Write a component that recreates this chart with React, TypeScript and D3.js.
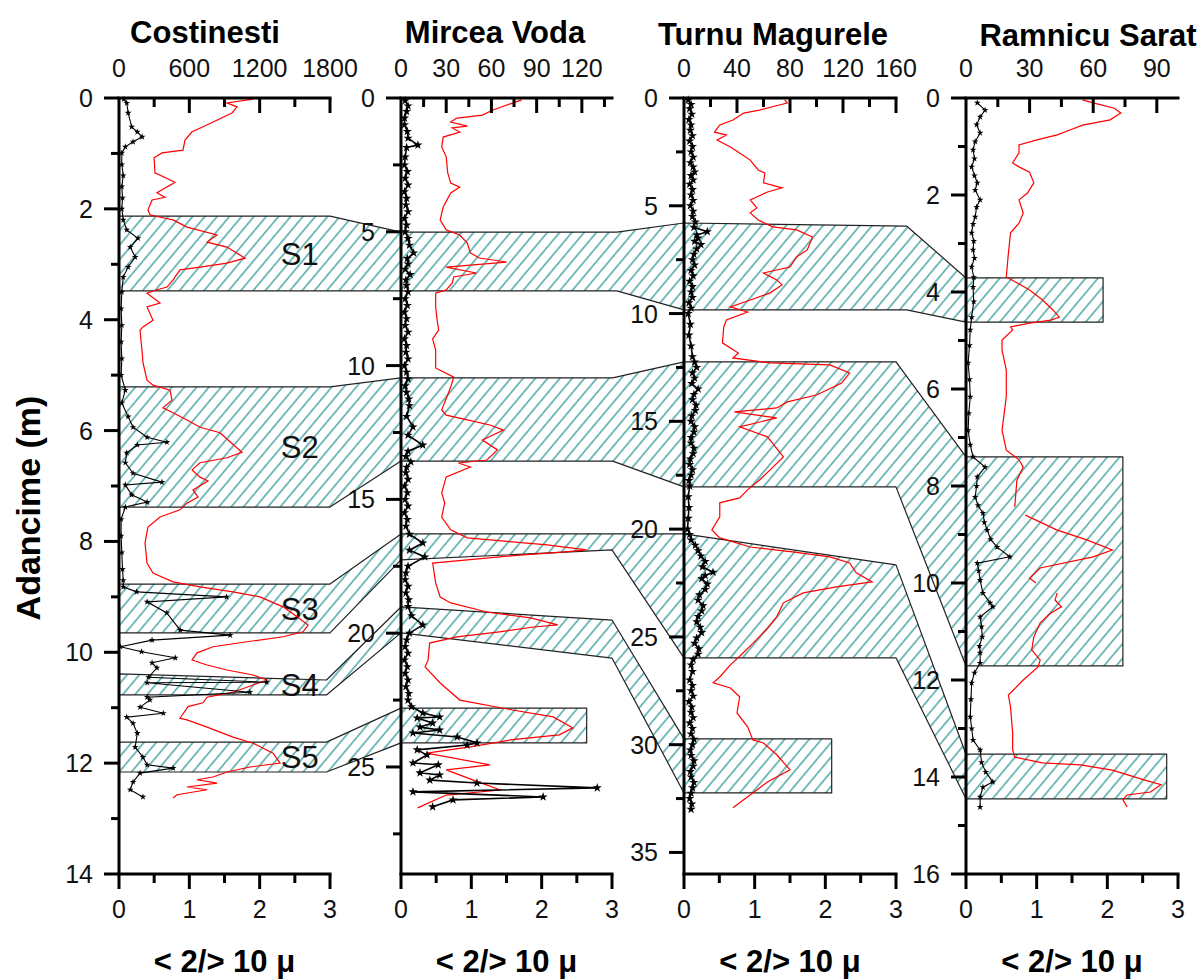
import React from 'react';
import * as d3 from 'd3';

// ---------------- DATA ----------------
const panelNames = ['Costinesti', 'Mircea Voda', 'Turnu Magurele', 'Ramnicu Sarat'];
const depthMax = [14, 29, 36, 16];
const depthMajor = [2, 5, 5, 2];
const depthMinor = [1, 2.5, 2.5, 1];
const topMax = [1800, 140, 160, 100];
const topLabels = [[0, 600, 1200, 1800], [0, 30, 60, 90, 120], [0, 40, 80, 120, 160], [0, 30, 60, 90]];
const topMinorStep = [300, 15, 20, 15];
const ratioLabels = [0, 1, 2, 3];
const yTitle = 'Adancime (m)';
const xTitle = '< 2/> 10 μ';
const bandNames = ['S1', 'S2', 'S3', 'S4', 'S5'];

// [depth m, top-axis value]
const costRed: [number, number][] = [
  [0.02,1143],[0.09,921],[0.16,1007],[0.27,964],[0.52,717],[0.61,623],[0.76,563],[0.94,546],[0.99,367],[1.08,299],[1.35,307],[1.52,478],[1.71,324],[1.79,392],[1.84,282],[2.02,247],[2.11,265],[2.16,375],[2.20,461],[2.33,580],[2.47,836],[2.60,751],[2.69,921],[2.89,1075],[2.98,921],[3.05,691],[3.10,520],[3.28,461],[3.41,410],[3.46,324],[3.52,239],[3.70,350],[3.77,239],[4.01,290],[4.13,205],[4.19,179],[4.55,196],[4.78,205],[5.09,239],[5.18,290],[5.27,435],[5.45,452],[5.59,375],[5.68,461],[5.81,580],[5.94,691],[6.04,862],[6.17,930],[6.39,1049],[6.49,921],[6.58,691],[6.71,623],[6.84,691],[6.91,759],[7.07,631],[7.20,674],[7.31,580],[7.43,520],[7.56,350],[7.74,247],[8.03,222],[8.39,239],[8.57,290],[8.73,461],[8.82,691],[8.91,973],[9.00,1203],[9.18,1399],[9.36,1519],[9.51,1613],[9.63,1570],[9.72,1399],[9.81,1092],[9.90,802],[10.01,666],[10.14,623],[10.23,751],[10.32,921],[10.41,1143],[10.50,1263],[10.59,1143],[10.72,973],[10.81,751],[10.91,717],[10.98,589],[11.19,520],[11.22,580],[11.35,751],[11.53,973],[11.64,1143],[11.82,1314],[12.00,1374],[12.07,1118],[12.16,921],[12.25,802],[12.30,666],[12.36,836],[12.43,580],[12.48,751],[12.57,495],[12.63,461]
];
// [depth m, ratio <2/>10µ]
const costBlack: [number, number][] = [
  [0.02,0.07],[0.09,0.11],[0.27,0.13],[0.52,0.18],[0.61,0.26],[0.70,0.33],[0.79,0.2],[0.88,0.09],[0.99,0.04],[1.2,0.04],[1.4,0.06],[1.6,0.04],[1.8,0.05],[2.0,0.04],[2.2,0.06],[2.38,0.11],[2.53,0.27],[2.69,0.16],[2.87,0.23],[3.05,0.13],[3.23,0.06],[3.5,0.04],[3.8,0.03],[4.1,0.04],[4.4,0.03],[4.7,0.04],[5.0,0.03],[5.27,0.09],[5.50,0.04],[5.75,0.13],[5.94,0.2],[6.12,0.4],[6.21,0.68],[6.26,0.26],[6.40,0.11],[6.58,0.09],[6.77,0.2],[6.93,0.61],[6.98,0.09],[7.16,0.18],[7.29,0.4],[7.38,0.09],[7.6,0.03],[7.9,0.03],[8.2,0.04],[8.5,0.05],[8.7,0.06],[8.82,0.06],[8.91,0.25],[9.00,1.53],[9.09,0.4],[9.29,0.68],[9.60,0.87],[9.69,1.58],[9.78,0.47],[9.90,0.02],[9.99,0.32],[10.10,0.8],[10.19,0.47],[10.28,0.54],[10.45,0.42],[10.54,2.1],[10.55,0.4],[10.72,1.86],[10.81,0.4],[10.86,0.44],[10.99,0.3],[11.10,0.63],[11.17,0.11],[11.28,0.2],[11.46,0.26],[11.71,0.23],[11.89,0.34],[12.03,0.4],[12.09,0.77],[12.18,0.3],[12.34,0.2],[12.48,0.16],[12.61,0.34]
];
const mirRed: [number, number][] = [
  [0.07,80],[0.19,74],[0.45,61],[0.64,54],[0.75,37],[0.90,33],[1.05,44],[1.12,34],[1.27,39],[1.46,28],[1.83,27],[2.20,30],[2.80,31],[3.18,33],[3.33,39],[3.55,33],[4.07,28],[4.56,26],[4.93,30],[5.12,39],[5.42,44],[5.79,46],[5.98,52],[6.13,70],[6.32,30],[6.54,50],[6.69,35],[6.91,34],[7.17,30],[7.29,23],[7.81,23],[8.30,24],[8.67,25],[9.0,21],[9.42,23],[10.09,23],[10.43,35],[10.80,33],[11.66,27],[11.85,30],[12.03,44],[12.22,59],[12.41,68],[12.78,54],[13.15,64],[13.53,57],[13.64,38],[13.79,46],[14.16,30],[14.76,27],[15.13,29],[15.66,27],[16.14,33],[16.44,44],[16.59,74],[16.70,97],[16.89,123],[16.97,107],[17.08,79],[17.26,44],[17.38,21],[18.12,23],[18.65,26],[18.87,33],[19.21,57],[19.43,86],[19.69,104],[19.77,88],[19.96,64],[20.14,37],[20.37,19],[21.00,18],[21.26,16],[21.86,26],[22.50,39],[22.87,74],[23.13,101],[23.54,114],[23.80,105],[23.98,74],[24.25,46],[24.48,17],[24.92,59],[25.11,30],[25.49,48],[25.86,66],[26.05,30],[26.53,11]
];
const mirBlack: [number, number][] = [
  [0.1,0.06],[0.3,0.1],[0.5,0.08],[0.75,0.05],[1.0,0.05],[1.25,0.09],[1.5,0.1],[1.76,0.24],[1.85,0.08],[2.2,0.06],[2.5,0.05],[2.75,0.09],[3.0,0.06],[3.25,0.1],[3.5,0.05],[3.75,0.08],[4.0,0.07],[4.25,0.1],[4.5,0.05],[4.75,0.08],[5.0,0.06],[5.25,0.1],[5.5,0.12],[5.79,0.18],[6.0,0.09],[6.2,0.1],[6.4,0.06],[6.6,0.13],[6.8,0.07],[7.0,0.08],[7.25,0.1],[7.5,0.06],[7.75,0.09],[8.0,0.05],[8.25,0.08],[8.5,0.06],[8.75,0.1],[9.0,0.05],[9.25,0.08],[9.5,0.07],[9.75,0.1],[10.0,0.05],[10.25,0.08],[10.5,0.1],[10.75,0.06],[11.0,0.08],[11.25,0.11],[11.5,0.12],[11.9,0.08],[12.29,0.17],[12.6,0.1],[12.97,0.31],[13.2,0.1],[13.4,0.07],[13.6,0.14],[13.8,0.08],[14.0,0.07],[14.25,0.1],[14.5,0.05],[14.75,0.09],[15.0,0.06],[15.25,0.1],[15.5,0.05],[15.75,0.09],[16.0,0.07],[16.3,0.12],[16.63,0.31],[16.9,0.12],[17.15,0.34],[17.5,0.1],[17.75,0.07],[18.0,0.06],[18.25,0.1],[18.5,0.07],[18.75,0.11],[19.0,0.1],[19.35,0.15],[19.69,0.31],[20.0,0.12],[20.25,0.08],[20.5,0.06],[20.75,0.1],[21.0,0.05],[21.25,0.09],[21.5,0.06],[21.75,0.1],[22.0,0.07],[22.25,0.11],[22.5,0.1],[22.75,0.15],[22.98,0.31],[23.13,0.55],[23.17,0.23],[23.36,0.45],[23.51,0.27],[23.62,0.55],[23.73,0.17],[23.88,0.8],[24.10,1.08],[24.18,0.94],[24.36,0.23],[24.55,0.37],[24.85,0.17],[24.92,0.53],[25.22,0.27],[25.30,0.55],[25.49,0.41],[25.60,1.08],[25.78,2.79],[25.93,0.17],[26.12,2.02],[26.23,0.74],[26.49,0.45]
];
const turRed: [number, number][] = [
  [0.09,76],[0.23,78],[0.56,57],[0.70,45],[1.02,37],[1.25,27],[1.58,23],[1.72,32],[1.95,25],[2.27,35],[2.55,42],[2.88,50],[3.34,56],[3.48,61],[3.94,60],[4.17,74],[4.36,63],[4.73,50],[5.10,55],[5.33,50],[5.66,56],[5.98,67],[6.12,85],[6.45,97],[7.05,93],[7.37,85],[7.84,80],[8.12,60],[8.44,70],[8.67,74],[9.04,65],[9.37,50],[9.69,35],[9.93,48],[10.30,32],[10.62,30],[11.36,29],[11.83,41],[12.06,37],[12.29,65],[12.38,110],[12.76,125],[13.22,119],[13.78,100],[14.10,78],[14.38,70],[14.56,38],[14.84,70],[15.26,42],[15.72,63],[16.65,75],[17.25,65],[17.72,57],[18.18,48],[18.55,42],[18.78,27],[19.43,27],[20.04,21],[20.41,27],[20.83,50],[21.06,82],[21.29,110],[21.57,125],[22.03,130],[22.45,142],[22.68,115],[22.96,90],[23.42,75],[24.07,70],[24.6,63],[25.3,52],[25.9,42],[26.30,35],[26.86,27],[27.13,22],[27.37,35],[27.78,42],[28.53,40],[29.17,48],[29.78,52],[29.92,60],[30.47,70],[31.17,80],[31.73,63],[32.10,55],[32.56,45],[32.93,37]
];
const turBlack: [number, number][] = [
  [0.1,0.06],[0.3,0.1],[0.5,0.08],[0.75,0.11],[1.0,0.07],[1.25,0.1],[1.5,0.09],[1.75,0.12],[2.0,0.08],[2.25,0.12],[2.5,0.1],[2.75,0.13],[3.0,0.09],[3.2,0.13],[3.43,0.15],[3.6,0.1],[3.8,0.13],[4.0,0.08],[4.25,0.12],[4.5,0.1],[4.75,0.13],[5.0,0.09],[5.25,0.13],[5.5,0.12],[5.75,0.16],[6.0,0.14],[6.2,0.33],[6.35,0.18],[6.5,0.2],[6.65,0.15],[6.8,0.24],[7.0,0.18],[7.25,0.14],[7.5,0.12],[7.75,0.15],[8.0,0.1],[8.25,0.13],[8.5,0.08],[8.75,0.12],[9.0,0.1],[9.25,0.12],[9.5,0.07],[9.75,0.1],[10.0,0.06],[10.5,0.09],[11.0,0.07],[11.5,0.1],[12.0,0.12],[12.25,0.15],[12.5,0.18],[12.75,0.12],[13.0,0.15],[13.25,0.11],[13.5,0.2],[13.75,0.14],[14.0,0.12],[14.25,0.17],[14.5,0.16],[14.75,0.11],[15.0,0.1],[15.25,0.15],[15.5,0.14],[15.75,0.1],[16.0,0.1],[16.25,0.14],[16.5,0.13],[16.75,0.09],[17.0,0.08],[17.25,0.12],[17.5,0.1],[17.75,0.07],[18.0,0.08],[18.5,0.06],[19.0,0.07],[19.5,0.06],[20.0,0.05],[20.25,0.08],[20.5,0.1],[20.75,0.16],[21.0,0.2],[21.25,0.24],[21.5,0.3],[21.75,0.26],[22.0,0.41],[22.15,0.3],[22.3,0.25],[22.55,0.33],[22.8,0.3],[23.05,0.22],[23.3,0.2],[23.55,0.27],[23.8,0.25],[24.05,0.2],[24.3,0.18],[24.55,0.23],[24.8,0.25],[25.05,0.18],[25.3,0.15],[25.55,0.21],[25.8,0.2],[26.05,0.13],[26.3,0.1],[26.6,0.12],[27.0,0.08],[27.25,0.12],[27.5,0.1],[27.75,0.13],[28.0,0.07],[28.25,0.11],[28.5,0.1],[28.75,0.13],[29.0,0.08],[29.25,0.12],[29.5,0.1],[29.75,0.14],[30.0,0.12],[30.25,0.09],[30.5,0.1],[30.75,0.14],[31.0,0.13],[31.25,0.09],[31.5,0.1],[31.75,0.14],[32.0,0.12],[32.25,0.1],[32.5,0.08],[32.75,0.11],[33.0,0.1]
];
const ramRed: [number, number][] = [
  [0.04,55],[0.10,60],[0.21,70],[0.31,73],[0.45,68],[0.56,55],[0.66,49],[0.76,43],[0.87,33],[0.97,25],[1.13,25],[1.34,22],[1.42,25],[1.53,30],[1.75,32],[1.96,29],[2.10,25],[2.37,27],[2.58,25],[2.78,21],[3.20,20],[3.69,19],[3.81,24],[3.96,30],[4.16,36],[4.37,41],[4.52,44],[4.58,40],[4.64,30],[4.72,21],[4.78,22],[4.99,17],[5.20,17],[5.61,19],[6.16,19],[6.85,17],[7.26,19],[7.46,25],[7.61,27],[7.88,24],[8.43,23],[8.5,NaN],[8.60,28],[8.91,43],[9.11,57],[9.32,69],[9.46,60],[9.69,35],[9.90,30],[10.0,33],[10.1,NaN],[10.21,43],[10.35,42],[10.49,45],[10.62,40],[10.82,35],[11.11,32],[11.38,31],[11.59,35],[11.73,34],[12.0,27],[12.31,20],[12.56,21],[13.09,22],[13.44,22],[13.59,23],[13.71,36],[13.75,54],[13.86,69],[14.06,84],[14.16,92],[14.31,87],[14.37,76],[14.47,74],[14.62,76]
];
const ramBlack: [number, number][] = [
  [0.10,0.16],[0.25,0.27],[0.39,0.2],[0.55,0.15],[0.72,0.2],[0.9,0.13],[1.07,0.1],[1.25,0.12],[1.42,0.08],[1.6,0.12],[1.75,0.16],[1.9,0.13],[2.10,0.2],[2.25,0.15],[2.45,0.13],[2.6,0.1],[2.78,0.08],[2.95,0.11],[3.13,0.1],[3.3,0.12],[3.48,0.08],[3.7,0.11],[3.90,0.1],[4.2,0.11],[4.52,0.08],[4.78,0.06],[5.1,0.05],[5.46,0.03],[5.8,0.05],[6.16,0.06],[6.5,0.04],[6.85,0.03],[7.15,0.06],[7.40,0.1],[7.61,0.27],[7.81,0.16],[8.0,0.15],[8.23,0.13],[8.4,0.17],[8.56,0.24],[8.75,0.26],[8.91,0.3],[9.1,0.35],[9.26,0.44],[9.46,0.62],[9.59,0.16],[9.75,0.18],[9.94,0.2],[10.21,0.24],[10.41,0.34],[10.49,0.38],[10.70,0.2],[10.9,0.22],[11.11,0.23],[11.3,0.19],[11.44,0.2],[11.65,0.2],[11.85,0.12],[12.06,0.08],[12.4,0.07],[12.76,0.06],[13.0,0.08],[13.24,0.1],[13.44,0.2],[13.7,0.22],[13.9,0.28],[14.10,0.38],[14.21,0.24],[14.41,0.2],[14.62,0.2]
];
const redSeries = [costRed, mirRed, turRed, ramRed];
const blackSeries = [costBlack, mirBlack, turBlack, ramBlack];

// hatched layers: [panel, right end (ratio units), topLeft, topRight, bottomLeft, bottomRight] (depths)
const bandS1 = [[0,3.0,2.13,2.13,3.48,3.48],[1,3.07,5.01,5.01,7.21,7.21],[2,3.15,5.8,5.94,9.83,9.83],[3,1.94,3.71,3.71,4.62,4.62]];
const bandS2 = [[0,3.0,5.21,5.21,7.38,7.38],[1,3.01,10.46,10.46,13.57,13.57],[2,3.0,12.24,12.24,18.04,18.04],[3,2.22,7.40,7.40,11.71,11.71]];
const bandS3 = [[0,3.0,8.77,8.77,9.65,9.65],[1,3.0,16.29,16.29,17.26,16.89],[2,3.0,20.22,21.66,25.97,25.97],[3,2.84,13.53,13.53,14.45,14.45]];
const bandS4 = [[0,2.95,10.39,10.5,10.77,10.77],[1,3.0,19.02,19.51,19.99,20.93],[2,2.09,29.73,29.73,32.24,32.24]];
const bandS5 = [[0,2.95,11.62,11.62,12.16,12.16],[1,2.64,22.80,22.80,24.10,24.10]];
const bands = [bandS1, bandS2, bandS3, bandS4, bandS5];

// ---------------- LAYOUT ----------------
const W = 1203, H = 980;
const TOP = 98, BOTTOM = 874;
const panelLeft = [119, 401, 684, 966];
const panelRight = [330, 612, 896, 1178];
const titleX = [205, 495, 773, 1088];
const titleY = [43, 43, 45, 46];
const FONT = '"Liberation Sans", Arial, Helvetica, sans-serif';
const HATCH = '#168a8a';

export default function App() {
  const panels = [0, 1, 2, 3].map((p) => ({
    y: d3.scaleLinear().domain([0, depthMax[p]]).range([TOP, BOTTOM]),
    xr: d3.scaleLinear().domain([0, 3]).range([panelLeft[p], panelRight[p]]),
    xt: d3.scaleLinear().domain([0, topMax[p]]).range([panelLeft[p], panelRight[p]]),
  }));

  const bandPath = (band: number[][]) => {
    const top: [number, number][] = [];
    const bot: [number, number][] = [];
    band.forEach(([p, xR, tL, tR, bL, bR]) => {
      const { y, xr } = panels[p];
      top.push([xr(0), y(tL)], [xr(xR), y(tR)]);
      bot.push([xr(0), y(bL)], [xr(xR), y(bR)]);
    });
    return (d3.line()([...top, ...bot.reverse()]) as string) + 'Z';
  };

  const starSmall = d3.symbol().type(d3.symbolStar).size(14)() as string;
  const starBig = d3.symbol().type(d3.symbolStar).size(26)() as string;
  const isMajor = (v: number, step: number) => Math.abs(v / step - Math.round(v / step)) < 1e-6;

  return (
    <svg width={W} height={H} style={{ position: 'absolute', left: 0, top: 0, background: '#fff' }} fontFamily={FONT}>
      <defs>
        <pattern id="hatch" patternUnits="userSpaceOnUse" width={9.4} height={9.4} patternTransform="rotate(40)">
          <line x1={4.7} y1={0} x2={4.7} y2={9.4} stroke={HATCH} strokeWidth={1.15} />
        </pattern>
      </defs>
      <rect x={0} y={0} width={W} height={H} fill="#fff" />

      {/* hatched layers */}
      {bands.map((b, i) => (
        <path key={'band' + i} d={bandPath(b)} fill="url(#hatch)" stroke="#222" strokeWidth={1.2} strokeLinejoin="round" />
      ))}
      {bands.map((b, i) => {
        const { y, xr } = panels[0];
        const seg = b[0];
        return (
          <text key={'bl' + i} x={xr(2.57)} y={y((seg[2] + seg[4]) / 2)} dy="0.36em" textAnchor="middle" fontSize={31} fill="#111">
            {bandNames[i]}
          </text>
        );
      })}

      {panels.map((P, p) => {
        const { y, xr, xt } = P;
        const L = panelLeft[p], R = panelRight[p];
        const yTicks = d3.range(0, depthMax[p] + 1e-9, depthMinor[p]);
        const tTicks = d3.range(0, topMax[p] + 1e-9, topMinorStep[p]);
        const bTicks = d3.range(0, 3 + 1e-9, 0.5);
        const redLine = d3.line<[number, number]>().defined((d) => !isNaN(d[1])).x((d) => xt(d[1])).y((d) => y(d[0]));
        const blackLine = d3.line<[number, number]>().x((d) => xr(d[1])).y((d) => y(d[0]));
        const cx = (L + R) / 2;
        const dense = p === 1 || p === 2;
        return (
          <g key={'panel' + p}>
            {/* data */}
            <path d={redLine(redSeries[p]) as string} fill="none" stroke="#ff0000" strokeWidth={1.2} />
            <path d={blackLine(blackSeries[p]) as string} fill="none" stroke="#000" strokeWidth={dense ? 1.6 : 1.1} />
            {blackSeries[p].map((d, i) => (
              <path key={i} d={dense ? starBig : starSmall} transform={`translate(${xr(d[1])},${y(d[0])})`} fill="#000" />
            ))}

            {/* axes */}
            <line x1={L} y1={TOP} x2={L} y2={BOTTOM + 15} stroke="#000" strokeWidth={3} />
            <line x1={L - 1.5} y1={TOP} x2={R + 1.5} y2={TOP} stroke="#000" strokeWidth={3} />
            <line x1={L - 1.5} y1={BOTTOM} x2={R + 1.5} y2={BOTTOM} stroke="#000" strokeWidth={3} />
            {yTicks.map((v) => {
              const maj = isMajor(v, depthMajor[p]);
              return (
                <g key={'yt' + v}>
                  <line x1={L - (maj ? 15 : 8)} y1={y(v)} x2={L} y2={y(v)} stroke="#000" strokeWidth={3} />
                  {maj && (
                    <text x={L - 26} y={y(v)} dy="0.36em" textAnchor="end" fontSize={25} fill="#111">
                      {v}
                    </text>
                  )}
                </g>
              );
            })}
            {tTicks.map((v) => {
              const maj = topLabels[p].includes(v);
              return v === 0 ? null : (
                <line key={'tt' + v} x1={xt(v)} y1={TOP} x2={xt(v)} y2={TOP + (maj ? 15 : 9)} stroke="#000" strokeWidth={3} />
              );
            })}
            {topLabels[p].map((v) => (
              <text key={'tl' + v} x={xt(v)} y={77} textAnchor="middle" fontSize={25} fill="#111">
                {v}
              </text>
            ))}
            {bTicks.map((v) => {
              const maj = isMajor(v, 1);
              return v === 0 ? null : (
                <line key={'bt' + v} x1={xr(v)} y1={BOTTOM} x2={xr(v)} y2={BOTTOM + (maj ? 15 : 9)} stroke="#000" strokeWidth={3} />
              );
            })}
            {ratioLabels.map((v) => (
              <text key={'bl' + v} x={xr(v)} y={918} textAnchor="middle" fontSize={25} fill="#111">
                {v}
              </text>
            ))}

            {/* titles */}
            <text x={titleX[p]} y={titleY[p]} textAnchor="middle" fontSize={31} fontWeight="bold" fill="#000">
              {panelNames[p]}
            </text>
            <text x={cx} y={972} textAnchor="middle" fontSize={31} fontWeight="bold" fill="#000">
              {xTitle}
            </text>
          </g>
        );
      })}

      <text transform="translate(40,508) rotate(-90)" textAnchor="middle" fontSize={34} fontWeight="bold" fill="#000">
        {yTitle}
      </text>
    </svg>
  );
}
